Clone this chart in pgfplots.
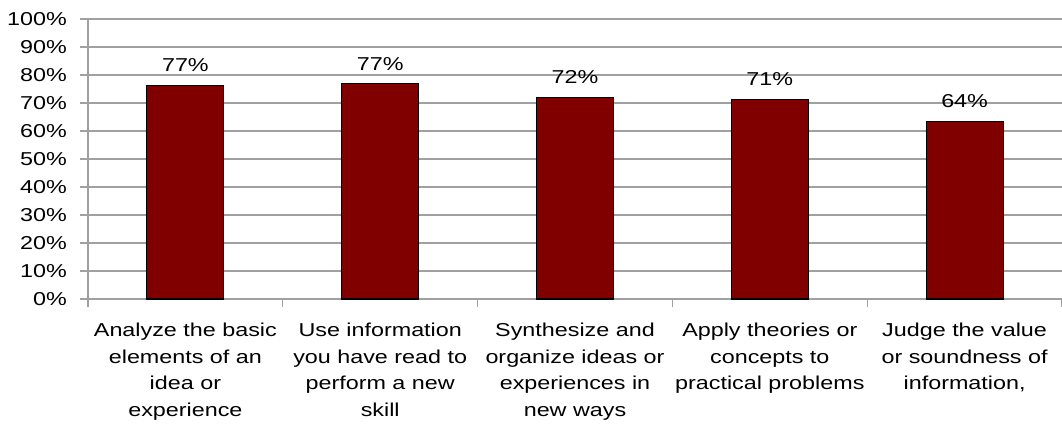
\documentclass[border=0pt]{standalone}
\usepackage{pgfplots}
\pgfplotsset{compat=1.18}
\usepackage{fontspec}
\setmainfont{Liberation Sans}[FakeStretch=1.25]
\definecolor{barred}{HTML}{800000}
\definecolor{gridgray}{HTML}{A0A0A0}
\begin{document}
\fontsize{14}{20}\selectfont
\begin{tikzpicture}
\path[use as bounding box] (-66pt,-96pt) rectangle (730.5pt,224.25pt);
\begin{axis}[
  at={(0,0)}, anchor=south west,
  scale only axis,
  width=730.5pt, height=210pt,
  xmin=-0.5, xmax=4.5,
  ymin=0, ymax=100,
  axis x line=bottom, axis y line=left,
  axis line style={draw=gridgray, line width=1pt, -},
  ytick={0,10,...,100},
  yticklabel={\pgfmathprintnumber{\tick}\%},
  /pgf/number format/assume math mode=true,
  ymajorgrids,
  major grid style={draw=gridgray, line width=1pt},
  tick align=outside,
  major tick length=6pt,
  tick style={draw=gridgray, line width=1pt},
  yticklabel style={font=\fontsize{14}{16}\selectfont, xshift=-5pt},
  xtick={0,1,2,3,4},
  major x tick style={draw=none},
  xticklabels={
    {Analyze the basic\\elements of an\\idea or\\experience},
    {Use information\\you have read to\\perform a new\\skill},
    {Synthesize and\\organize ideas or\\experiences in\\new ways},
    {Apply theories or\\concepts to\\practical problems},
    {Judge the value\\or soundness of\\information,}},
  xticklabel style={align=center, anchor=north, yshift=-7pt,
    font=\fontsize{14}{20}\selectfont},
  extra x ticks={-0.5,0.5,1.5,2.5,3.5,4.5},
  extra x tick labels={},
  extra x tick style={major x tick style={draw=gridgray, line width=1pt}, major tick length=6pt},
  ybar, bar width=57.75pt,
  point meta=explicit symbolic,
  nodes near coords,
  nodes near coords style={anchor=south, yshift=5pt, font=\fontsize{14}{16}\selectfont},
  clip=false,
]
\addplot[fill=barred, draw=black, line width=0.8pt] coordinates {
  (0,76.3) [77\%]
  (1,76.8) [77\%]
  (2,72.0) [72\%]
  (3,71.3) [71\%]
  (4,63.5) [64\%]
};
\end{axis}
\end{tikzpicture}
\end{document}
